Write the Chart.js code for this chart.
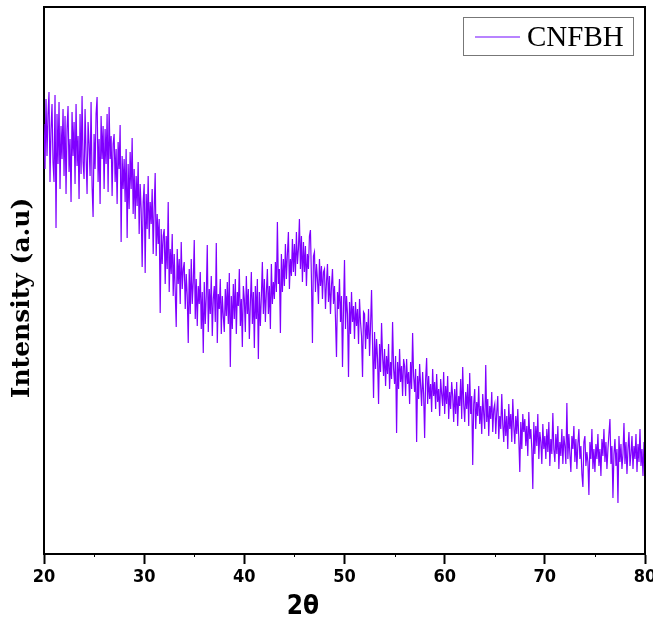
<!DOCTYPE html>
<html>
<head>
<meta charset="utf-8">
<script src="https://cdn.jsdelivr.net/npm/chart.js@4.4.0/dist/chart.umd.min.js"></script>
<style>
  html, body { margin: 0; padding: 0; background: #fff; }
</style>
</head>
<body>
<canvas id="myChart" width="653" height="622"></canvas>
<script>
// XRD pattern, 2theta from 20 to 80 in 0.1 steps, intensity in a.u.
const seriesName = 'CNFBH'
const startAngle = 20
const stepAngle = 0.1
const xTicks = [20, 30, 40, 50, 60, 70, 80]
const xMinorTicks = [25, 35, 45, 55, 65, 75]
const xTitle = '2θ'
const yTitle = 'Intensity (a.u)'

const intensity = [
  430,385,455,398,440,462,372,425,450,392, // 20
  372,459,326,440,390,452,365,428,395,445, // 21
  378,438,360,425,448,382,415,352,442,398, // 22
  432,370,450,388,418,355,440,380,458,392, // 23
  375,445,398,360,432,410,378,452,368,337, // 24
  420,385,440,457,372,415,350,438,395,428, // 25
  365,425,390,440,362,447,395,418,358,410, // 26
  420,372,405,350,412,385,429,312,398,365, // 27
  395,352,405,316,390,345,402,365,416,340, // 28
  385,335,378,348,392,320,370,345,287,352, // 29
  370,281,360,325,378,315,352,330,365,300, // 30
  345,381,298,340,310,335,241,325,290,318, // 31
  325,270,318,285,352,262,305,280,320,258, // 32
  300,262,227,305,270,295,250,312,265,285, // 33
  292,245,280,258,211,285,240,295,250,272, // 34
  314,235,275,228,268,250,282,225,262,201, // 35
  272,230,258,309,222,265,240,278,218,255, // 36
  268,232,311,211,260,245,275,220,258,238, // 37
  222,265,238,272,230,281,187,258,225,270, // 38
  235,275,220,262,248,285,228,255,207,268, // 39
  255,222,278,240,265,215,250,282,230,262, // 40
  206,268,235,275,195,262,228,258,292,240, // 41
  275,232,262,285,240,268,225,290,250,272, // 42
  255,292,262,332,270,285,221,300,262,295, // 43
  268,310,275,300,322,265,295,278,315,282, // 44
  310,278,322,290,305,335,285,318,272,312, // 45
  282,308,268,300,285,318,324,275,211,298, // 46
  302,262,290,275,250,295,268,288,255,282, // 47
  285,245,272,290,252,278,240,268,285,250, // 48
  268,235,197,262,245,275,232,258,187,245, // 49
  294,225,258,240,177,252,220,262,232,248, // 50
  215,252,228,245,210,255,232,218,177,242, // 51
  240,205,232,215,245,198,228,264,210,156, // 52
  222,185,215,195,150,210,182,231,198,178, // 53
  205,168,198,180,210,165,192,175,232,185, // 54
  170,198,121,192,165,205,172,188,158,195, // 55
  188,158,195,170,182,150,192,165,221,178, // 56
  162,185,112,178,155,190,168,148,182,160, // 57
  116,175,196,150,178,155,170,142,185,158, // 58
  172,145,180,152,165,138,175,160,148,182, // 59
  140,168,150,178,135,162,145,172,158,132, // 60
  165,140,172,128,158,148,175,135,187,150, // 61
  132,162,145,170,128,181,140,158,89,150,  // 62
  165,125,152,138,168,130,148,120,160,140, // 63
  125,189,132,155,118,148,135,162,122,145, // 64
  150,120,142,158,115,138,125,160,130,112, // 65
  145,118,138,105,150,125,140,112,155,128, // 66
  110,138,120,145,115,82,132,105,140,122,  // 67
  135,108,128,98,142,115,125,105,65,132,   // 68
  100,128,108,140,95,122,112,90,130,105,   // 69
  118,95,125,102,132,88,115,100,141,105,   // 70
  92,120,100,128,85,112,98,125,90,118,     // 71
  108,90,151,95,120,100,82,118,105,128,    // 72
  92,115,85,110,125,95,108,80,67,112,      // 73
  118,88,102,92,59,112,95,125,85,105,      // 74
  82,110,95,120,88,105,78,115,98,125,      // 75
  92,112,85,105,120,135,90,108,56,100,     // 76
  115,88,105,51,118,92,110,85,100,131,     // 77
  90,112,80,105,122,88,100,118,85,108,     // 78
  95,120,82,110,92,125,88,105,78,112,      // 79
  98                                       // 80
]

const LINE_COLOR = 'rgb(127, 0, 255)'
const NARROW = "'Liberation Sans Narrow', 'DejaVu Sans Condensed', Arial, sans-serif"

const points = intensity.map((v, i) => ({ x: +(startAngle + i * stepAngle).toFixed(1), y: v }))

// frame, minor ticks, axis titles and the legend box
const decorations = {
  id: 'decorations',
  afterDraw(chart) {
    const ctx = chart.ctx
    const a = chart.chartArea
    const xs = chart.scales.x
    ctx.save()
    ctx.strokeStyle = '#000'
    ctx.lineWidth = 2
    ctx.beginPath()
    ctx.moveTo(a.left, a.top)
    ctx.lineTo(a.right, a.top)
    ctx.lineTo(a.right, a.bottom)
    ctx.stroke()

    ctx.lineWidth = 1
    xMinorTicks.forEach(t => {
      const px = Math.round(xs.getPixelForValue(t)) + 0.5
      ctx.beginPath()
      ctx.moveTo(px, a.bottom)
      ctx.lineTo(px, a.bottom + 3)
      ctx.stroke()
    })

    ctx.fillStyle = '#000'
    ctx.font = "bold 26px " + NARROW
    ctx.textAlign = 'center'
    ctx.textBaseline = 'middle'
    ctx.fillText(xTitle, 303, 607)

    ctx.translate(22, 298)
    ctx.rotate(-Math.PI / 2)
    ctx.font = "bold 25px 'DejaVu Serif', serif"
    ctx.fillText(yTitle, 0, 0)
    ctx.setTransform(1, 0, 0, 1, 0, 0)

    // legend
    ctx.fillStyle = '#fff'
    ctx.fillRect(463.5, 17.5, 170, 38)
    ctx.strokeStyle = '#777'
    ctx.lineWidth = 1
    ctx.strokeRect(463.5, 17.5, 170, 38)
    ctx.strokeStyle = 'rgb(160, 90, 255)'
    ctx.lineWidth = 1.5
    ctx.beginPath()
    ctx.moveTo(475, 37)
    ctx.lineTo(520, 37)
    ctx.stroke()
    ctx.fillStyle = '#000'
    ctx.font = "29px 'Liberation Serif', 'Times New Roman', serif"
    ctx.textAlign = 'left'
    ctx.textBaseline = 'middle'
    ctx.fillText(seriesName, 527, 38)
    ctx.restore()
  }
}

const config = {
  type: 'line',
  data: {
    datasets: [{
      label: seriesName,
      data: points,
      borderColor: LINE_COLOR,
      borderWidth: 1.2,
      pointRadius: 0,
      tension: 0,
      fill: false
    }]
  },
  options: {
    responsive: false,
    animation: false,
    devicePixelRatio: 1,
    layout: { padding: { top: 7, right: 8, left: 0, bottom: 0 } },
    plugins: {
      legend: { display: false },
      tooltip: { enabled: false }
    },
    scales: {
      x: {
        type: 'linear',
        min: 20,
        max: 80,
        afterFit: scale => {
          scale.height = 68
          scale.paddingLeft = 0
          scale.paddingRight = 0
        },
        afterBuildTicks: scale => { scale.ticks = xTicks.map(v => ({ value: v })) },
        ticks: {
          color: '#000',
          padding: 3,
          maxRotation: 0,
          font: { family: NARROW, size: 18, weight: 'bold' }
        },
        grid: {
          drawOnChartArea: false,
          tickLength: 10,
          tickWidth: 2,
          tickColor: '#000'
        },
        border: { display: true, color: '#000', width: 2 }
      },
      y: {
        min: 0,
        max: 547,
        afterFit: scale => { scale.width = 44 },
        ticks: { display: false },
        grid: { drawOnChartArea: false, drawTicks: false },
        border: { display: true, color: '#000', width: 2 }
      }
    }
  },
  plugins: [decorations]
}

const myChart = new Chart(document.getElementById('myChart'), config)
</script>
</body>
</html>
